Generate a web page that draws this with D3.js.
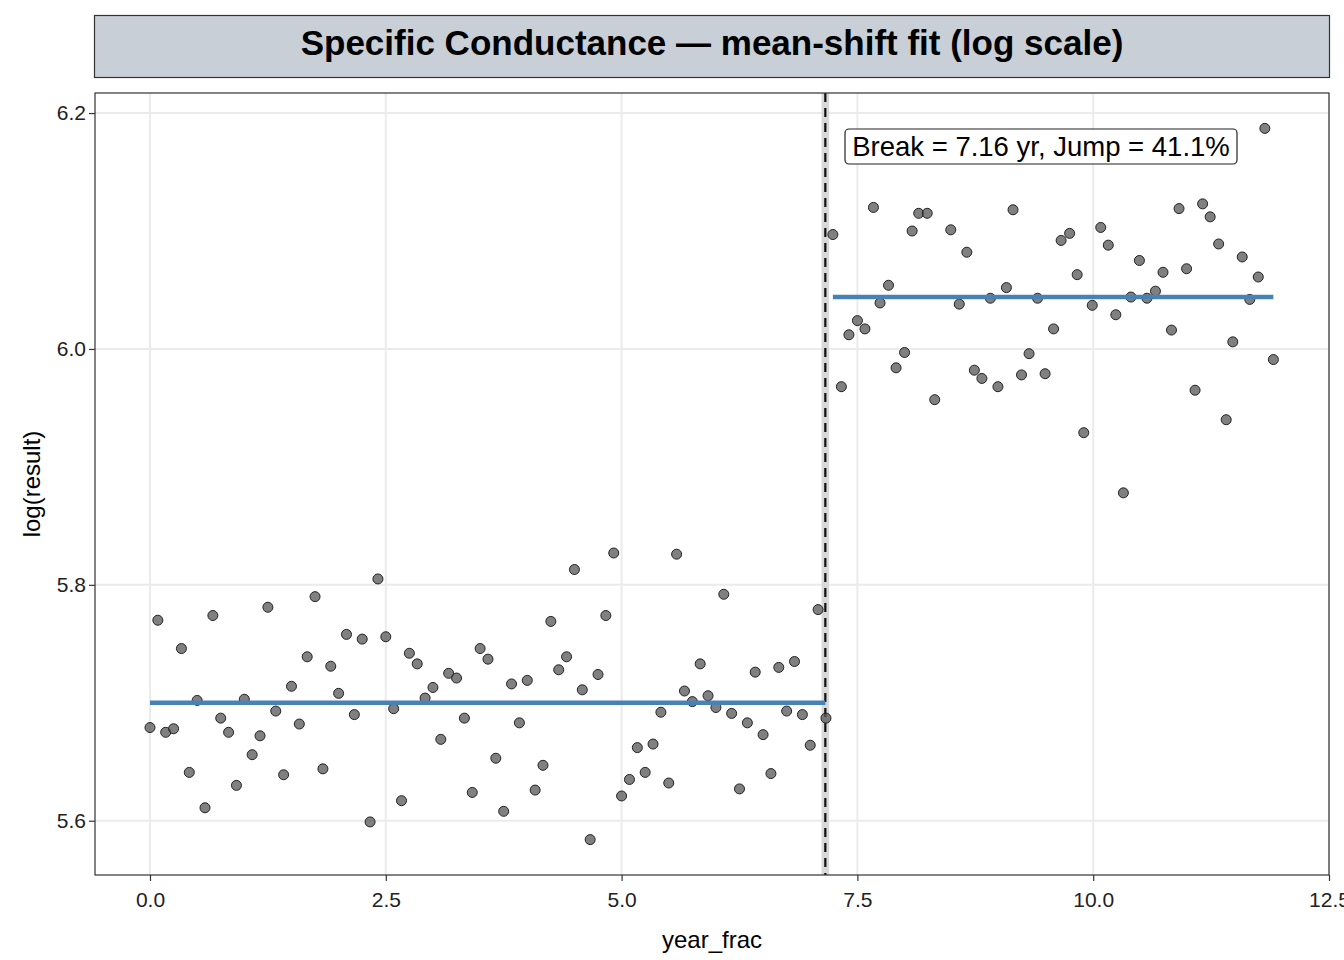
<!DOCTYPE html>
<html lang="en">
<head>
<meta charset="UTF-8">
<title>Specific Conductance</title>
<style>
  body { margin: 0; background: #fff; }
  text { font-family: "Liberation Sans", Arial, sans-serif; }
</style>
</head>
<body>
<svg id="chart"></svg>
<script src="https://d3js.org/d3.v7.min.js"></script>
<script>
    // pre-break values, monthly from year 0
    var preValues = [5.679,5.770,5.675,5.678,5.746,5.641,5.702,5.611,5.774,5.687,5.675,5.630,5.703,5.656,5.672,5.781,
        5.693,5.639,5.714,5.682,5.739,5.790,5.644,5.731,5.708,5.758,5.690,5.754,5.599,5.805,5.756,5.695,5.617,5.742,
        5.733,5.704,5.713,5.669,5.725,5.721,5.687,5.624,5.746,5.737,5.653,5.608,5.716,5.683,5.719,5.626,5.647,5.769,
        5.728,5.739,5.813,5.711,5.584,5.724,5.774,5.827,5.621,5.635,5.662,5.641,5.665,5.692,5.632,5.826,5.710,5.701,
        5.733,5.706,5.696,5.792,5.691,5.627,5.683,5.726,5.673,5.640,5.730,5.693,5.735,5.690,5.664,5.779,5.687];
    var postYears = [7.24,7.33,7.41,7.50,7.58,7.67,7.74,7.83,7.91,8.00,8.08,8.15,8.24,8.32,8.49,8.58,8.66,8.74,8.82,
        8.91,8.99,9.08,9.15,9.24,9.32,9.41,9.49,9.58,9.66,9.75,9.83,9.90,9.99,10.08,10.16,10.24,10.32,10.40,10.49,
        10.57,10.66,10.74,10.83,10.91,10.99,11.08,11.16,11.24,11.33,11.41,11.48,11.58,11.66,11.75,11.82,11.91];
    var postValues = [6.097,5.968,6.012,6.024,6.017,6.120,6.039,6.054,5.984,5.997,6.100,6.115,6.115,5.957,6.101,6.038,
        6.082,5.982,5.975,6.043,5.968,6.052,6.118,5.978,5.996,6.043,5.979,6.017,6.092,6.098,6.063,5.929,6.037,6.103,
        6.088,6.029,5.878,6.044,6.075,6.043,6.049,6.065,6.016,6.119,6.068,5.965,6.123,6.112,6.089,5.940,6.006,6.078,
        6.042,6.061,6.187,5.991];
    var breakYear = 7.16, breakLo = 7.12, breakHi = 7.20;
    var segments = [{x0: 0, x1: 7.16, y: 5.700}, {x0: 7.24, x1: 11.91, y: 6.044}];
    var xTicks = [0, 2.5, 5, 7.5, 10, 12.5];
    var yTicks = [5.6, 5.8, 6.0, 6.2];

    var points = preValues.map(function (v, i) { return {x: i / 12, y: v}; })
        .concat(postValues.map(function (v, i) { return {x: postYears[i], y: v}; }));

    var width = 1344, height = 960;
    var pLeft = 95, pRight = 1329, pTop = 93, pBottom = 875;

    var svg = d3.select("#chart").attr("width", width).attr("height", height);

    var xScale = d3.scaleLinear().domain([-0.583, 12.5]).range([pLeft, pRight]);
    var yScale = d3.scaleLinear().domain([5.554, 6.217]).range([pBottom, pTop]);

    // strip title
    svg.append("rect").attr("x", 94.5).attr("y", 15.5).attr("width", 1235).attr("height", 62)
        .attr("fill", "#c8cfd7").attr("stroke", "#333").attr("stroke-width", 1.2);
    svg.append("text").attr("x", 712).attr("y", 55).attr("text-anchor", "middle")
        .attr("font-size", 35).attr("font-weight", "bold").text("Specific Conductance — mean-shift fit (log scale)");

    var g = svg.append("g");
    g.selectAll(".gx").data(xTicks).enter().append("line")
        .attr("x1", function (d) { return xScale(d); }).attr("x2", function (d) { return xScale(d); })
        .attr("y1", pTop).attr("y2", pBottom).attr("stroke", "#ebebeb").attr("stroke-width", 2);
    g.selectAll(".gy").data(yTicks).enter().append("line")
        .attr("y1", function (d) { return yScale(d); }).attr("y2", function (d) { return yScale(d); })
        .attr("x1", pLeft).attr("x2", pRight).attr("stroke", "#ebebeb").attr("stroke-width", 2);

    // break band + line
    g.append("rect").attr("x", xScale(breakLo)).attr("width", xScale(breakHi) - xScale(breakLo))
        .attr("y", pTop).attr("height", pBottom - pTop).attr("fill", "#d9d9d9");
    g.append("line").attr("x1", xScale(breakYear)).attr("x2", xScale(breakYear))
        .attr("y1", pTop).attr("y2", pBottom).attr("stroke", "#111").attr("stroke-width", 2.2)
        .attr("stroke-dasharray", "9,6");

    g.selectAll(".pt").data(points).enter().append("circle")
        .attr("cx", function (d) { return xScale(d.x); })
        .attr("cy", function (d) { return yScale(d.y); })
        .attr("r", 5).attr("fill", "#555").attr("fill-opacity", 0.75)
        .attr("stroke", "#222").attr("stroke-width", 1);

    g.selectAll(".seg").data(segments).enter().append("line")
        .attr("x1", function (d) { return xScale(d.x0); }).attr("x2", function (d) { return xScale(d.x1); })
        .attr("y1", function (d) { return yScale(d.y); }).attr("y2", function (d) { return yScale(d.y); })
        .attr("stroke", "#4682b4").attr("stroke-width", 4.5);

    // label
    var lab = svg.append("g");
    lab.append("rect").attr("x", 845).attr("y", 129).attr("width", 392).attr("height", 35).attr("rx", 4)
        .attr("fill", "#fff").attr("stroke", "#222").attr("stroke-width", 1.2);
    lab.append("text").attr("x", 1041).attr("y", 156).attr("text-anchor", "middle").attr("font-size", 27.5)
        .text("Break = 7.16 yr, Jump = 41.1%");

    svg.append("rect").attr("x", pLeft).attr("y", pTop).attr("width", pRight - pLeft).attr("height", pBottom - pTop)
        .attr("fill", "none").attr("stroke", "#333").attr("stroke-width", 1.2);

    var xAxis = d3.axisBottom(xScale).tickValues(xTicks).tickFormat(d3.format(".1f")).tickSizeOuter(0).tickSize(6);
    var ax = svg.append("g").attr("transform", "translate(0," + pBottom + ")").call(xAxis);
    var yAxis = d3.axisLeft(yScale).tickValues(yTicks).tickFormat(d3.format(".1f")).tickSizeOuter(0).tickSize(6);
    var ay = svg.append("g").attr("transform", "translate(" + pLeft + ",0)").call(yAxis);
    [ax, ay].forEach(function (a) {
        a.select(".domain").remove();
        a.selectAll("line").attr("stroke", "#333").attr("stroke-width", 1.2);
        a.selectAll("text").attr("font-size", 21).attr("fill", "#222")
            .style("font-family", "'Liberation Sans', Arial, sans-serif");
    });
    ax.selectAll("text").attr("dy", "1.1em");

    svg.append("text").attr("x", 712).attr("y", 948).attr("text-anchor", "middle").attr("font-size", 24).text("year_frac");
    svg.append("text").attr("transform", "translate(40,484) rotate(-90)").attr("text-anchor", "middle")
        .attr("font-size", 24).text("log(result)");
</script>
</body>
</html>
